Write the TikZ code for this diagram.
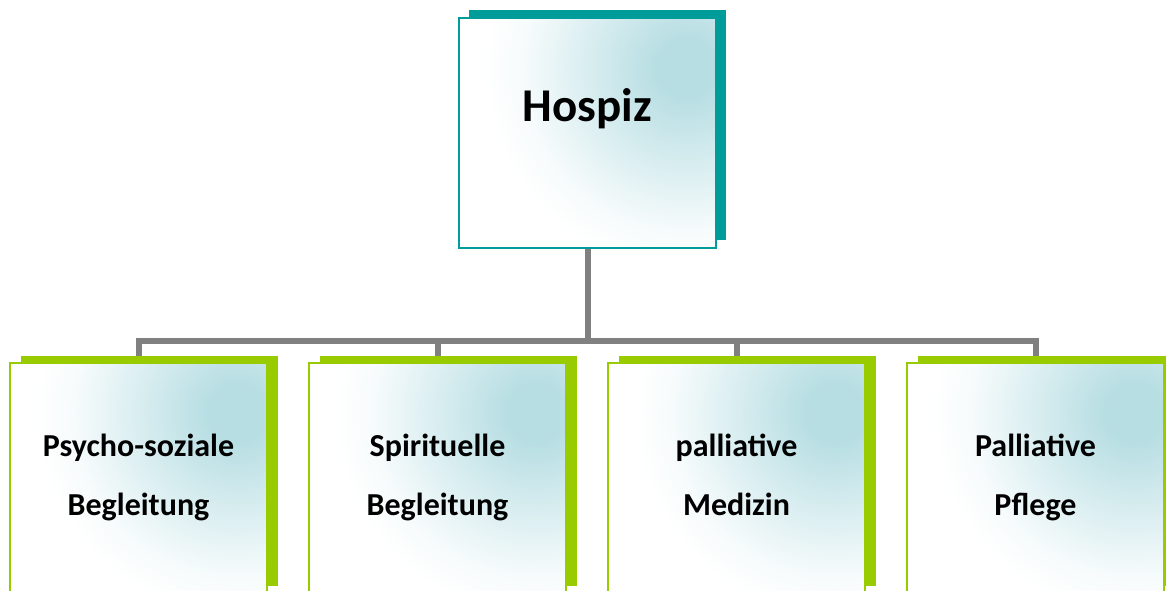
\documentclass[tikz,border=0pt]{standalone}
\usepackage{fontspec}
\setmainfont{Carlito}
\usepackage{tikz}
\usetikzlibrary{shadows,calc}
\definecolor{hospizteal}{RGB}{0,156,153}
\definecolor{subgreen}{RGB}{153,204,0}
\definecolor{branchgray}{RGB}{128,128,128}
\definecolor{glow}{RGB}{183,222,227}
\pgfdeclarelayer{background}
\pgfsetlayers{background,main}
\pgfdeclareradialshading{boxglow}{\pgfpoint{0bp}{0bp}}{color(0bp)=(glow); color(3bp)=(glow); color(10bp)=(glow!55!white); color(17bp)=(glow!12!white); color(21bp)=(white); color(50bp)=(white)}
\tikzset{
	glowfill/.style={path picture={
		\shade[shading=boxglow] ($(path picture bounding box.north east)+(-30,50)$) circle (240);}},
	topbox/.style={draw=hospizteal, line width=2pt, fill=white, glowfill,
		minimum width=257pt, minimum height=230pt, inner sep=0pt,
		drop shadow={shadow xshift=10pt, shadow yshift=8pt, fill=hospizteal, opacity=1}},
	subbox/.style={draw=subgreen, line width=1.6pt, fill=white, glowfill,
		minimum width=257pt, minimum height=230pt, inner sep=0pt, align=center,
		text depth=7pt, font=\bfseries\fontsize{32}{59}\selectfont,
		drop shadow={shadow xshift=11pt, shadow yshift=7pt, fill=subgreen, opacity=1}},
	branch/.style={draw=branchgray, line width=6pt}
}

\begin{document}
\begin{tikzpicture}[x=1pt, y=-1pt]

	\clip (0,0) rectangle (1166,590);

	\node[topbox, label={[yshift=24.5pt, font=\bfseries\fontsize{47}{56}\selectfont]center:Hospiz}] (hospiz) at (587.5,133) {};

	\node[subbox] (psycho) at (138.5,478) {Psycho-soziale\\Begleitung};
	\node[subbox] (spirit) at (437.5,478) {Spirituelle\\Begleitung};
	\node[subbox] (medizin) at (736.5,478) {palliative\\Medizin};
	\node[subbox] (pflege) at (1035.5,478) {Palliative\\Pflege};

	\begin{pgfonlayer}{background}
		\draw[branch] (hospiz.south) -- ++(0,92) coordinate (fork);
		\draw[branch] (fork) -| (psycho.north);
		\draw[branch] (fork) -| (spirit.north);
		\draw[branch] (fork) -| (medizin.north);
		\draw[branch] (fork) -| (pflege.north);
	\end{pgfonlayer}

\end{tikzpicture}
\end{document}
